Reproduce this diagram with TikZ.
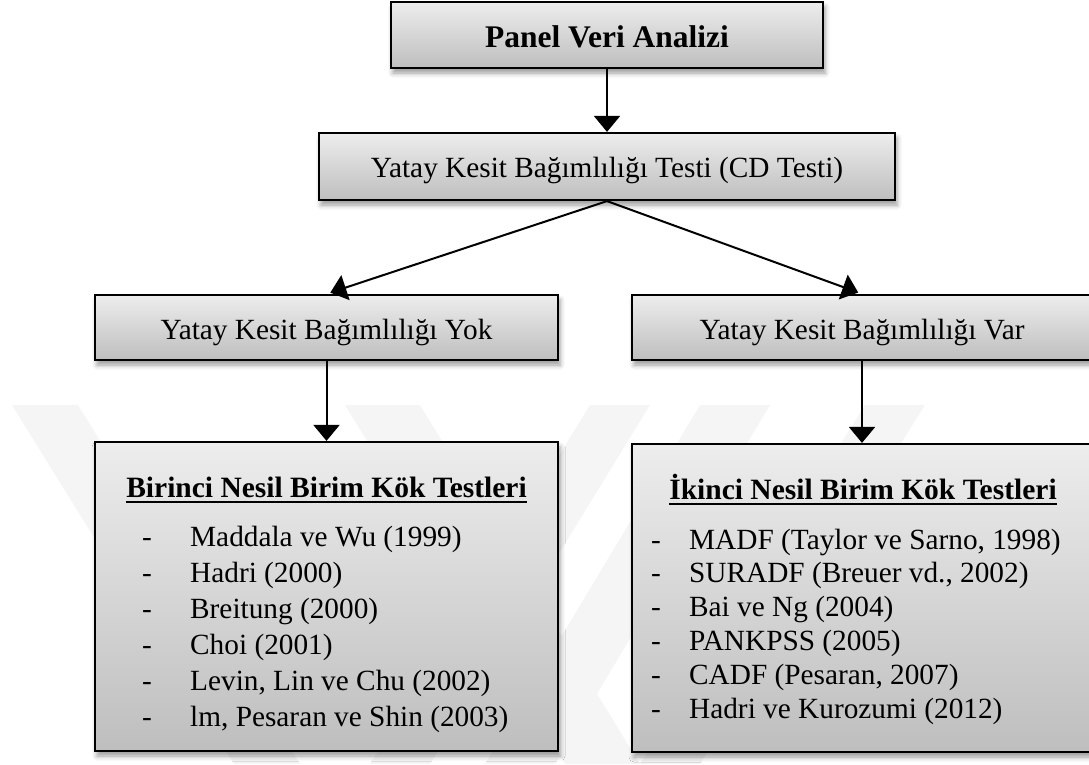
\documentclass[tikz,border=0pt]{standalone}
\usepackage{fontspec}
\setmainfont{Liberation Serif}
\usetikzlibrary{arrows.meta,shadows.blur}
\definecolor{boxtop}{RGB}{237,237,237}
\definecolor{boxbot}{RGB}{190,190,190}
\definecolor{wmark}{RGB}{245,245,245}
\tikzset{
  box/.style={draw=black, line width=2.2pt, top color=boxtop, bottom color=boxbot,
    inner sep=0pt,
    blur shadow={shadow xshift=2pt, shadow yshift=-5pt, shadow blur radius=5pt, shadow opacity=40}},
  link/.style={line width=2pt, -{Triangle[width=26pt,length=16pt]}},
  txt/.style={inner sep=0pt, anchor=base, font=\fontsize{29.3}{35}\selectfont},
  head/.style={inner sep=0pt, anchor=base, font=\fontsize{31.5}{36}\selectfont\bfseries},
  sub/.style={inner sep=0pt, anchor=base, font=\fontsize{29.5}{35}\selectfont\bfseries},
  item/.style={inner sep=0pt, anchor=base west, font=\fontsize{29.3}{35}\selectfont},
}
\begin{document}
\begin{tikzpicture}[x=1pt,y=-1pt]
\useasboundingbox (0,0) rectangle (1089,764);

% faint background emblem, slanted bars
\fill[wmark] (12,405) -- (78,405) -- (300,764) -- (234,764) -- cycle;
\fill[wmark] (345,405) -- (420,405) -- (640,764) -- (565,764) -- cycle;
\fill[wmark] (700,405) -- (770,405) -- (555,764) -- (485,764) -- cycle;
\fill[wmark] (590,405) -- (650,405) -- (430,764) -- (370,764) -- cycle;
\fill[wmark] (865,405) -- (925,405) -- (700,764) -- (640,764) -- cycle;

% boxes
\node[box, minimum width=432pt, minimum height=66pt] (top) at (607,35) {};
\node[box, minimum width=576pt, minimum height=67pt] (cd) at (607,166.5) {};
\node[box, minimum width=463pt, minimum height=65pt] (yok) at (326.5,327.5) {};
\node[box, minimum width=460pt, minimum height=65pt] (var) at (862,327.5) {};
\node[box, minimum width=463pt, minimum height=309pt] (bir) at (326.5,596.5) {};
\node[box, minimum width=460pt, minimum height=308pt] (iki) at (862,598) {};

% box texts
\node[head] (toplbl) at (607,47) {Panel Veri Analizi};
\node[txt] (cdlbl) at (607,177) {Yatay Kesit Bağımlılığı Testi (CD Testi)};
\node[txt] (yoklbl) at (326.5,339) {Yatay Kesit Bağımlılığı Yok};
\node[txt] (varlbl) at (862,339) {Yatay Kesit Bağımlılığı Var};

% list headings, underlined
\node[sub] (birlbl) at (326.5,497) {Birinci Nesil Birim Kök Testleri};
\draw[line width=2pt] ([yshift=-5pt]birlbl.base west) -- ([yshift=-5pt]birlbl.base east);
\node[sub] (ikilbl) at (863,499) {İkinci Nesil Birim Kök Testleri};
\draw[line width=2pt] ([yshift=-5pt]ikilbl.base west) -- ([yshift=-5pt]ikilbl.base east);

% first generation tests
\foreach \t [count=\i] in {{Maddala ve Wu (1999)},{Hadri (2000)},{Breitung (2000)},
    {Choi (2001)},{Levin, Lin ve Chu (2002)},{lm, Pesaran ve Shin (2003)}}
  \node[item] (b\i) at (142,510+36*\i) {\makebox[48pt][l]{-}\t};

% second generation tests
\foreach \t [count=\i] in {{MADF (Taylor ve Sarno, 1998)},{SURADF (Breuer vd., 2002)},
    {Bai ve Ng (2004)},{PANKPSS (2005)},{CADF (Pesaran, 2007)},{Hadri ve Kurozumi (2012)}}
  \node[item] (k\i) at (651,515.2+33.8*\i) {\makebox[38pt][l]{-}\t};

% connectors
\draw[link] (top.south) -- (cd.north);
\draw[link, shorten >=4pt] (cd.south) -- (yok.north);
\draw[link, shorten >=4pt] (cd.south) -- (var.north);
\draw[link] (yok.south) -- (bir.north);
\draw[link] (var.south) -- (iki.north);
\end{tikzpicture}
\end{document}
